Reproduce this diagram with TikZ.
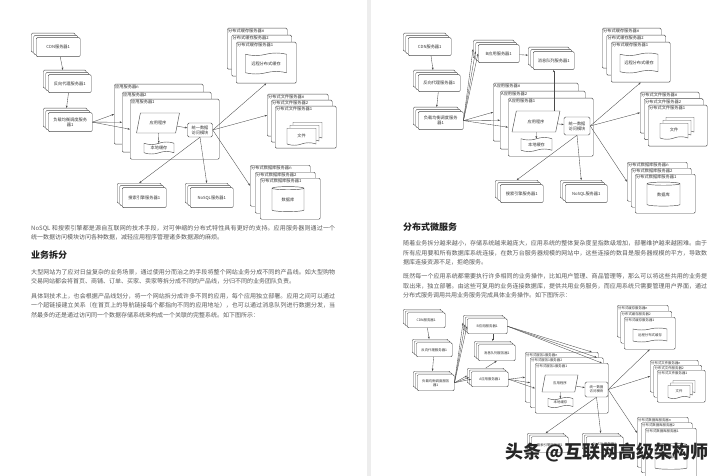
\documentclass[tikz,border=0pt]{standalone}
\usepackage{fontspec}
\setmainfont{Noto Sans CJK SC}
\XeTeXlinebreaklocale "zh"
\XeTeXlinebreakskip=0pt plus 1pt
\usetikzlibrary{arrows.meta,shapes.geometric,shapes.symbols}
\definecolor{lineg}{HTML}{4A4A4A}
\definecolor{bodyg}{HTML}{5A5A5A}
\definecolor{headg}{HTML}{222222}
\newcommand{\dg}{\fontsize{4.2}{4.9}\selectfont}
\newcommand{\sdg}{\fontsize{3.4}{4}\selectfont}
\newcommand{\bodyfont}{\fontsize{6}{9.6}\selectfont}
\newcommand{\headfont}{\fontsize{9}{11}\selectfont\bfseries}
\newcommand{\stackd}{2.5}
% stack of three server boxes: [style]{name}{x}{y}{w}{h}{text}
\newcommand{\srvstack}[7][]{%
  \node[layer, minimum width=#5pt, minimum height=#6pt] (#2-c) at (#3,#4) {};
  \node[layer, minimum width=#5pt, minimum height=#6pt] (#2-b) at (#3+\stackd,#4+0.88*\stackd) {};
  \node[layer, minimum width=#5pt, minimum height=#6pt, align=center, #1] (#2) at (#3+2*\stackd,#4+1.76*\stackd) {#7};}
% one labelled server layer: [font]{name}{x}{y}{w}{h}{label}
\newcommand{\tier}[7][\dg]{%
  \node[layer, minimum width=#5pt, minimum height=#6pt] (#2) at (#3,#4) {};
  \node[tierlbl, font=#1] (#2-t) at (#2.north west) {#7};}

\begin{document}
\begin{tikzpicture}[x=1pt, y=-1pt,
  layer/.style={draw=lineg, line width=0.45pt, rounded corners=1.2pt, fill=white, inner sep=0pt,
                anchor=north west, font=\dg, text=black!80},
  tierlbl/.style={anchor=north west, inner sep=1pt, text=black!80},
  prog/.style={trapezium, trapezium left angle=65, trapezium right angle=115, trapezium stretches=true,
               draw=lineg, fill=white, line width=0.45pt, inner sep=0pt, font=\dg, text=black!80},
  tapedoc/.style={tape, tape bend height=2.5pt, draw=lineg, fill=white, line width=0.45pt,
                  inner sep=0pt, font=\dg, text=black!80},
  filedoc/.style={tape, tape bend top=none, tape bend height=2.5pt, draw=lineg, fill=white,
                  line width=0.45pt, inner sep=0pt, font=\dg, text=black!80},
  unimod/.style={draw=lineg, rounded corners=1.5pt, fill=white, line width=0.45pt, inner sep=0pt,
                 align=center, font=\dg, text=black!80},
  dbcyl/.style={cylinder, shape border rotate=90, aspect=0.25, draw=lineg, fill=white,
                line width=0.45pt, inner sep=0pt, font=\dg, text=black!80},
  arr/.style={-{Stealth[length=2.4pt,width=1.8pt]}, draw=lineg, line width=0.35pt},
  para/.style={anchor=north west, inner sep=0pt, align=justify, font=\bodyfont, text=bodyg},
  headtxt/.style={anchor=west, inner sep=0pt, font=\headfont, text=headg}]
\useasboundingbox (0,0) rectangle (720,476);
\fill[white] (0,0) rectangle (720,476);
\fill[black!7] (367,0) rectangle (371,476);

% ---- left page: distributed data access ----
\srvstack{lcdn}{31}{33}{44}{19}{CDN服务器1}
\srvstack{lrp}{43}{70}{43}{18}{反向代理服务器1}
\srvstack{llb}{43}{108}{44}{19}{负载均衡调度服务\\器1}
\tier{lan}{114}{84}{89}{60}{应用服务器n}
\tier{la2}{122}{92}{89}{60}{应用服务器2}
\tier{la1}{130}{99}{89}{60}{应用服务器1}
\node[prog, minimum width=43pt, minimum height=20pt] (lapp) at (158,123) {应用程序};
\node[tapedoc, minimum width=30pt, minimum height=12pt] (lloc) at (159,148) {本地缓存};
\node[unimod, minimum width=25pt, minimum height=14pt] (luni) at (200,130) {统一数据\\访问模块};
\tier{lcn}{227}{28}{60}{41}{分布式缓存服务器n}
\tier{lc2}{231.5}{35}{60}{41}{分布式缓存服务器2}
\tier{lc1}{236}{42}{60}{41}{分布式缓存服务器1}
\node[tapedoc, minimum width=41pt, minimum height=21pt] (lrc) at (266,63.5) {远程分布式缓存};
\tier{lfn}{267}{94}{61}{42}{分布式文件服务器n}
\tier{lf2}{271}{100}{61}{42}{分布式文件服务器2}
\tier{lf1}{275}{106}{61}{42}{分布式文件服务器1}
\node[filedoc, minimum width=29pt, minimum height=17pt] (lfile-c) at (307.5,129.5) {};
\node[filedoc, minimum width=29pt, minimum height=17pt] (lfile-b) at (304.5,132.5) {};
\node[filedoc, minimum width=29pt, minimum height=17pt] (lfile) at (301.5,135.5) {文件};
\tier{ldn}{250}{165}{60}{41}{分布式数据库服务器n}
\tier{ld2}{255}{172}{60}{41}{分布式数据库服务器2}
\tier{ld1}{260}{178}{60}{41}{分布式数据库服务器1}
\node[dbcyl, minimum width=32pt, minimum height=25pt] (ldb) at (288,200) {数据库};
\srvstack{lse}{117}{183}{44}{20}{搜索引擎服务器1}
\srvstack{lns}{185}{183}{43}{20}{NoSQL服务器1}
\draw[arr] (lcdn) -- (lrp-c);
\draw[arr] (lrp) -- (llb-c);
\draw[arr] (llb.east) -- (lan.west);
\draw[arr] (llb.east) -- (la2.west);
\draw[arr] (llb.east) -- (la1.west);
\draw[arr] (lapp) -- (lloc);
\draw[arr] (lapp) -- (luni);
\draw[arr] (luni.east) -- (lc1.south);
\draw[arr] (luni.east) -- (lfn.west);
\draw[arr] (luni.east) -- (ldn.west);
\draw[arr] (luni.south) -- (lse-c.north);
\draw[arr] (luni.south) -- (lns-c.north);

% ---- right page: business split ----
\srvstack{rcdn}{403}{33}{43}{18}{CDN服务器1}
\srvstack{rrp}{413}{70}{42}{17}{反向代理服务器1}
\srvstack{rlb}{413}{107}{45}{18}{负载均衡调度服务\\器1}
\srvstack{rb}{473}{40}{41}{18}{B应用服务器1}
\srvstack{rmq}{528}{47}{41}{18}{消息队列服务器1}
\tier{ran}{493}{83}{85}{58}{A应用服务器n}
\tier{ra2}{500}{91}{85}{58}{A应用服务器2}
\tier{ra1}{508}{98}{85}{58}{A应用服务器1}
\node[prog, minimum width=48pt, minimum height=21pt] (rapp) at (536,121.5) {应用程序};
\node[tapedoc, minimum width=31pt, minimum height=14pt] (rloc) at (536.5,144.5) {本地缓存};
\node[unimod, minimum width=26pt, minimum height=18pt] (runi) at (577,126) {统一数据\\访问模块};
\tier{rcn}{602}{28}{59}{40}{分布式缓存服务器n}
\tier{rc2}{606.5}{35}{59}{40}{分布式缓存服务器2}
\tier{rc1}{611}{42}{59}{40}{分布式缓存服务器1}
\node[tapedoc, minimum width=38pt, minimum height=20pt] (rrc) at (639,63) {远程分布式缓存};
\tier{rfn}{640}{92}{59}{41}{分布式文件服务器n}
\tier{rf2}{644}{98.5}{59}{41}{分布式文件服务器2}
\tier{rf1}{648}{105}{59}{41}{分布式文件服务器1}
\node[filedoc, minimum width=28pt, minimum height=16pt] (rfile-c) at (680,124) {};
\node[filedoc, minimum width=28pt, minimum height=16pt] (rfile-b) at (677,127) {};
\node[filedoc, minimum width=28pt, minimum height=16pt] (rfile) at (674,130) {文件};
\tier{rdn}{627}{162}{60}{39}{分布式数据库服务器n}
\tier{rd2}{631}{168}{60}{39}{分布式数据库服务器2}
\tier{rd1}{635}{174}{60}{39}{分布式数据库服务器1}
\node[dbcyl, minimum width=33pt, minimum height=24pt] (rdb) at (663.5,195) {数据库};
\srvstack{rse}{495}{180}{43}{18}{搜索引擎服务器1}
\srvstack{rns}{560}{180}{42}{18}{NoSQL服务器1}
\draw[arr] (rcdn) -- (rrp-c);
\draw[arr] (rrp) -- (rlb-c);
\draw[arr] (rlb.east) -- (rb-c.west);
\draw[arr] (rlb.east) -- (rb-b.west);
\draw[arr] (rlb.east) -- (rb.west);
\draw[arr] (rlb.east) -- (ran.west);
\draw[arr] (rlb.east) -- (ra2.west);
\draw[arr] (rlb.east) -- (ra1.west);
\draw[arr] (rb) -- (rmq-c);
\draw[arr] (rapp.north -| rmq.south) -- (rmq.south);
\draw[arr] (rapp) -- (rloc);
\draw[arr] (rapp) -- (runi);
\draw[arr] (runi.east) -- (rc1.south);
\draw[arr] (runi.east) -- (rfn.west);
\draw[arr] (runi.east) -- (rdn.west);
\draw[arr] (runi.south) -- (rse-c.north);
\draw[arr] (runi.south) -- (rns-c.north);

% ---- right page: distributed services ----
\renewcommand{\stackd}{2}
\srvstack[font=\sdg]{scdn}{403}{309}{38}{15}{CDN服务器1}
\srvstack[font=\sdg]{srp}{412}{339}{36}{14}{反向代理服务器1}
\srvstack[font=\sdg]{slb}{413}{371}{37}{16}{负载均衡调度服务\\器1}
\srvstack[font=\sdg]{sb}{463}{315}{40}{15}{B应用服务器1}
\srvstack[font=\sdg]{smq}{474}{341}{37}{16}{消息队列服务器1}
\srvstack[font=\sdg]{sa}{467}{368}{37}{15}{A应用服务器1}
\tier[\sdg]{ssn}{525}{352}{73}{50}{分布式服务1服务器n}
\tier[\sdg]{ss2}{530}{357.5}{73}{50}{分布式服务1服务器2}
\tier[\sdg]{ss1}{535}{363}{73}{50}{分布式服务1服务器1}
\node[prog, font=\sdg, minimum width=36pt, minimum height=17pt] (sapp) at (560,383.5) {应用程序};
\node[tapedoc, font=\sdg, minimum width=25pt, minimum height=10pt, tape bend height=2pt] (sloc) at (560.5,402.5) {本地缓存};
\node[unimod, font=\sdg, minimum width=23pt, minimum height=15pt] (suni) at (596.5,389.5) {统一数据\\访问模块};
\tier[\sdg]{scn}{617}{305}{51}{32}{分布式缓存服务器n}
\tier[\sdg]{sc2}{620.5}{311}{51}{32}{分布式缓存服务器2}
\tier[\sdg]{sc1}{624}{317}{51}{32}{分布式缓存服务器1}
\node[tapedoc, font=\sdg, minimum width=34pt, minimum height=14pt, tape bend height=2pt] (src) at (650,335) {远程分布式缓存};
\tier[\sdg]{sfn}{650}{360}{48}{32}{分布式文件服务器n}
\tier[\sdg]{sf2}{653.5}{365}{48}{32}{分布式文件服务器2}
\tier[\sdg]{sf1}{657}{370}{48}{32}{分布式文件服务器1}
\node[filedoc, minimum width=22pt, minimum height=13pt, tape bend height=2pt] (sfile-c) at (684,386) {};
\node[filedoc, minimum width=22pt, minimum height=13pt, tape bend height=2pt] (sfile-b) at (681.5,388.5) {};
\node[filedoc, font=\sdg, minimum width=22pt, minimum height=13pt, tape bend height=2pt] (sfile) at (679,391) {文件};
\tier[\sdg]{sdn}{637}{417}{51}{50}{分布式数据库服务器n}
\tier[\sdg]{sd2}{641}{422.5}{51}{50}{分布式数据库服务器2}
\tier[\sdg]{sd1}{645}{428}{51}{50}{分布式数据库服务器1}
\node[dbcyl, font=\sdg, minimum width=32pt, minimum height=26pt] (sdb) at (671,457) {数据库};
\srvstack[font=\sdg]{sse}{527}{433}{37}{16}{搜索引擎服务器1}
\srvstack[font=\sdg]{sns}{582}{433}{37}{16}{NoSQL服务器1}
\draw[arr] (scdn) -- (srp-c);
\draw[arr] (srp) -- (slb-c);
\draw[arr] (slb.east) -- (sb-c.west);
\draw[arr] (slb.east) -- (sb-b.west);
\draw[arr] (slb.east) -- (sb.west);
\draw[arr] (slb.east) -- (sa-c.west);
\draw[arr] (slb.east) -- (sa-b.west);
\draw[arr] (slb.east) -- (sa.west);
\draw[arr] (sb.south -| smq-c.north) -- (smq-c.north);
\draw[arr] (sa-c.north) -- (smq.south);
\draw[arr] (sb.east) -- (ssn.40);
\draw[arr] (sb.east) -- (ss2.40);
\draw[arr] (sb.east) -- (ss1.40);
\draw[arr] (sa.east) -- (ssn.west);
\draw[arr] (sa.east) -- (ss2.west);
\draw[arr] (sa.east) -- (ss1.west);
\draw[arr] (sapp) -- (sloc);
\draw[arr] (sapp) -- (suni);
\draw[arr] (suni.east) -- (sc1.south);
\draw[arr] (suni.east) -- (sfn.west);
\draw[arr] (suni.east) -- (sdn.160);
\draw[arr] (suni.south) -- (sse-c.north);
\draw[arr] (suni.south) -- (sns-c.north);

% ---- page text ----
\node[para, text width=304pt] (lp1) at (31,225) {NoSQL 和搜索引擎都是源自互联网的技术手段，对可伸缩的分布式特性具有更好的支持。应用服务器则通过一个\linebreak 统一数据访问模块访问各种数据，减轻应用程序管理诸多数据源的麻烦。};
\node[headtxt] (lh) at (31,255) {业务拆分};
\node[para, text width=304pt] (lp2) at (31,269) {大型网站为了应对日益复杂的业务场景，通过使用分而治之的手段将整个网站业务分成不同的产品线。如大型购物\linebreak 交易网站都会将首页、商铺、订单、买家、卖家等拆分成不同的产品线，分归不同的业务团队负责。};
\node[para, text width=304pt] (lp3) at (31,293) {具体到技术上，也会根据产品线划分，将一个网站拆分成许多不同的应用，每个应用独立部署。应用之间可以通过\linebreak 一个超链接建立关系（在首页上的导航链接每个都指向不同的应用地址），也可以通过消息队列进行数据分发，当\linebreak 然最多的还是通过访问同一个数据存储系统来构成一个关联的完整系统。如下图所示：};
\node[headtxt] (rh) at (403,227) {分布式微服务};
\node[para, text width=304pt] (rp1) at (403,240.3) {随着业务拆分越来越小，存储系统越来越庞大，应用系统的整体复杂度呈指数级增加，部署维护越来越困难。由于\linebreak 所有应用要和所有数据库系统连接，在数万台服务器规模的网站中，这些连接的数目是服务器规模的平方，导致数\linebreak 据库连接资源不足，拒绝服务。};
\node[para, text width=304pt] (rp2) at (403,273.3) {既然每一个应用系统都需要执行许多相同的业务操作，比如用户管理、商品管理等，那么可以将这些共用的业务提\linebreak 取出来，独立部署。由这些可复用的业务连接数据库，提供共用业务服务，而应用系统只需要管理用户界面，通过\linebreak 分布式服务调用共用业务服务完成具体业务操作。如下图所示：};

% watermark
\node[anchor=west, inner sep=0pt, font=\fontsize{18}{20}\selectfont\bfseries, text=black!85] (wm) at (505,453) {头条 @互联网高级架构师};
\end{tikzpicture}
\end{document}
